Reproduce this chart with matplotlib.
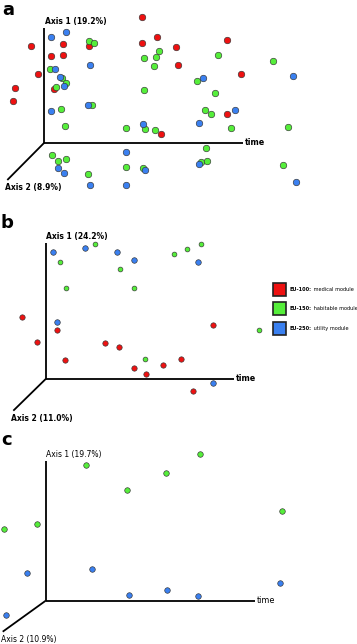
import matplotlib
matplotlib.use("Agg")
import matplotlib.pyplot as plt
from matplotlib.patches import Rectangle

# ---------------- data (screen positions) ----------------
a_red_x = [141.7, 30.7, 62.7, 89.3, 141.7, 156.7, 176, 50.7, 62.7, 177.7, 37.7, 54, 14.7, 13, 161, 226.7, 241.3, 226.7]
a_red_y = [16.7, 45.7, 44.3, 46, 42.7, 37.3, 46.7, 56, 55, 65.3, 73.7, 89.3, 87.7, 100.7, 134, 40, 73.7, 114.3]
a_green_x = [88.7, 94.3, 158.7, 156, 144.3, 50, 154.3, 62.3, 66, 56, 144, 92, 61, 65.3, 126.3, 145.3, 155,
             51.7, 58.3, 66.3, 88.3, 126.3, 142.7, 217.7, 273.3, 197.3, 215.3, 205.3, 210.7, 230.7, 287.7,
             206, 200.7, 207.3, 282.7]
a_green_y = [40.7, 43.3, 51, 56.7, 58.3, 69, 65.7, 78.3, 83.3, 87.3, 90, 105.3, 108.8, 126.3, 127.7, 128.7, 130,
             155, 161, 159, 174, 167.3, 167.7, 55, 60.7, 80.7, 93, 110, 114.3, 127.7, 126.7,
             148.3, 161.7, 161, 164.7]
a_blue_x = [50.7, 66, 90, 55, 60, 64.3, 87.5, 51.2, 142.7, 58.3, 64.3, 90, 126, 145.3, 126, 202.7, 293, 234.7,
            199.3, 199.3, 295.7]
a_blue_y = [37.3, 32.3, 65, 69.3, 77, 86, 104.5, 110.5, 124, 168.3, 172.7, 185.3, 152, 170.3, 184.7, 78.3, 76,
            110.3, 123.3, 164.3, 182.3]

b_red_x = [22.3, 57, 37, 105.3, 118.7, 65, 134, 163.3, 145.7, 180.7, 212.5, 192.7]
b_red_y = [316.7, 330, 342.3, 343, 347, 360.3, 368, 364.7, 374, 359.3, 325, 390.7]
b_green_x = [94.7, 174.3, 60, 120.3, 65.7, 134, 186.7, 200.7, 145, 259]
b_green_y = [244.3, 254.3, 261.7, 269, 288.3, 287.7, 249.3, 244.3, 359.3, 329.7]
b_blue_x = [52.7, 84.7, 117.3, 134, 57, 198, 212.7]
b_blue_y = [252.3, 248.3, 252.3, 259.7, 322, 262, 383.3]

c_green_x = [86, 165.7, 126.7, 3.7, 37, 200, 281.7]
c_green_y = [465, 472.7, 490.3, 529.3, 524.3, 454.3, 510.7]
c_blue_x = [27.3, 92.3, 129, 166.7, 5.7, 198.3, 280.3]
c_blue_y = [573.3, 568.7, 595, 590, 615, 596, 582.7]

panel_labels = ["a", "b", "c"]
axis1_labels = ["Axis 1 (19.2%)", "Axis 1 (24.2%)", "Axis 1 (19.7%)"]
axis2_labels = ["Axis 2 (8.9%)", "Axis 2 (11.0%)", "Axis 2 (10.9%)"]
legend_codes = ["EU-100:", "EU-150:", "EU-250:"]
legend_names = ["medical module", "habitable module", "utility module"]

RED, GREEN, BLUE = "#ee1111", "#55ee3a", "#3a80f0"

# ---------------- figure ----------------
fig = plt.figure(figsize=(3.57, 6.44), dpi=100)
ax = fig.add_axes([0, 0, 1, 1])
ax.set_xlim(0, 357)
ax.set_ylim(644, 0)
ax.axis("off")

# pseudo-3D axes frames: (origin x, origin y, top y, right x, diag end x, diag end y)
frames = [(44.3, 142.7, 28, 243.3, 7.3, 180),
          (46, 378.7, 243, 234.3, 13.3, 410.7),
          (45.7, 600.7, 460.7, 255, 2.7, 631.7)]
label_pos = [(2, 1), (0, 214), (1, 431)]
bold_axis = [True, True, False]
for i, (ox, oy, ty, rx, dx, dy) in enumerate(frames):
    ax.plot([ox, ox], [oy, ty], color="black", lw=1.3, solid_capstyle="butt", zorder=1)
    ax.plot([ox, rx], [oy, oy], color="black", lw=1.3, solid_capstyle="butt", zorder=1)
    ax.plot([ox, dx], [oy, dy], color="black", lw=1.3, solid_capstyle="butt", zorder=1)
    w = "bold" if bold_axis[i] else "normal"
    ax.text(ox + 0.5, ty - 2, axis1_labels[i], fontsize=5.5, fontweight=w, ha="left", va="bottom")
    ax.text(dx - 2, dy + 3, axis2_labels[i], fontsize=5.5, fontweight=w, ha="left", va="top")
    ax.text(rx + 1.5, oy - 0.5, "time", fontsize=5.8, fontweight=w, ha="left", va="center")
    ax.text(label_pos[i][0], label_pos[i][1], panel_labels[i], fontsize=13, fontweight="bold",
            ha="left", va="top")

def dots(x, y, c, s):
    ax.scatter(x, y, s=s, c=c, edgecolors="#333333", linewidths=0.45, zorder=3)

dots(a_red_x, a_red_y, RED, 22)
dots(a_green_x, a_green_y, GREEN, 22)
dots(a_blue_x, a_blue_y, BLUE, 22)
dots(b_red_x, b_red_y, RED, 15)
dots(b_green_x, b_green_y, GREEN, 12)
dots(b_blue_x, b_blue_y, BLUE, 16)
dots(c_green_x, c_green_y, GREEN, 16)
dots(c_blue_x, c_blue_y, BLUE, 16)

# legend
leg_y = [282.5, 301.5, 321.5]
for i, col in enumerate([RED, GREEN, BLUE]):
    ax.add_patch(Rectangle((273, leg_y[i]), 13, 13, facecolor=col, edgecolor="#222222", lw=1.2, zorder=4))
    t = ax.text(289.5, leg_y[i] + 6.8, legend_codes[i], fontsize=3.6, fontweight="bold",
                ha="left", va="center")
    ax.annotate(" " + legend_names[i], xycoords=t, xy=(1, 0.5), va="center", ha="left",
                fontsize=3.6)

fig.savefig("out.png", dpi=100)
